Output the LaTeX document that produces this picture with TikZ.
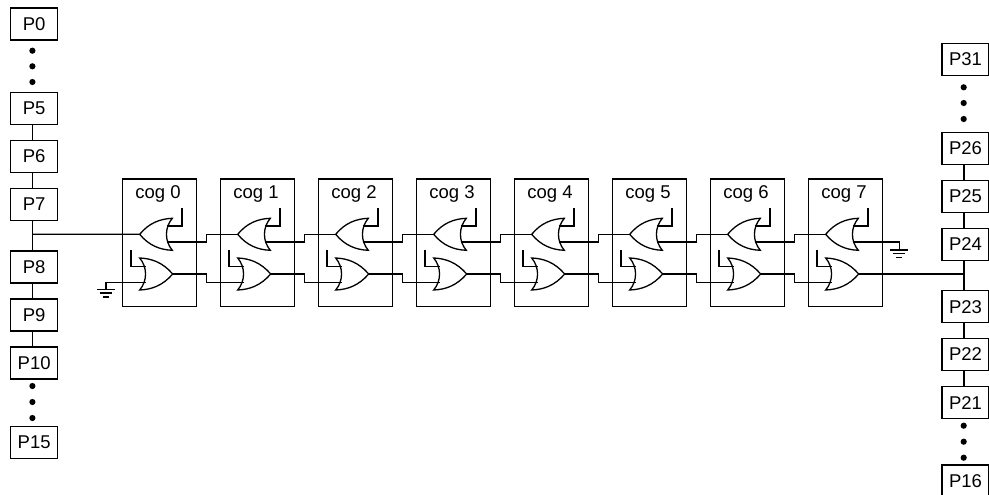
\documentclass[tikz,border=0pt]{standalone}
\usepackage{fontspec}
\setmainfont{Liberation Sans}
\tikzset{
  wire/.style={line width=1.3pt, line join=miter},
  pinbox/.style={draw, line width=1.3pt, minimum width=47pt, minimum height=32pt, inner sep=0pt, outer sep=0pt, font=\fontsize{18.5}{20}\selectfont},
  pindot/.style={circle, fill=black, minimum size=6.2pt, inner sep=0pt, outer sep=0pt},
  cogbox/.style={draw, line width=1.3pt, minimum width=74pt, minimum height=127.7pt, inner sep=0pt, outer sep=0pt},
  coglabel/.style={anchor=base, inner sep=0pt, font=\fontsize{18.5}{20}\selectfont},
  gate/.style={line width=1.3pt, line join=miter, miter limit=10},
}
\begin{document}
\begin{tikzpicture}[x=1pt,y=-1pt]
\useasboundingbox (0,0) rectangle (989,495);
\clip (0,0) rectangle (989,495);
\coordinate (colL) at (32.4,0);
\coordinate (colR) at (964,0);
% left pins
\foreach \n/\y in {P0/24, P5/108.5, P6/156.3, P7/204.5, P8/267, P9/315, P10/363, P15/442.7}
  \node[pinbox] (\n) at (34.2,\y) {\n};
% right pins
\foreach \n/\y in {P31/59.2, P26/148.6, P25/196.5, P24/244.5, P23/306.7, P22/354.5, P21/402.7, P16/481}
  \node[pinbox] (\n) at (965.5,\y) {\n};
% dots
\foreach \n/\x/\y in {a/32.4/50.7, b/32.4/66.3, c/32.4/82, d/32.4/386, e/32.4/402, f/32.4/418,
                      g/963.7/87.3, h/963.7/103, i/963.7/119, j/963.7/425.7, k/963.7/441.7, l/963.7/457.7}
  \node[pindot] (dot\n) at (\x,\y) {};
% pin chains
\foreach \a/\b in {P5/P6, P6/P7, P7/P8, P8/P9, P9/P10}
  \draw[wire] (\a.south -| colL) -- (\b.north -| colL);
\foreach \a/\b in {P26/P25, P25/P24, P24/P23, P23/P22, P22/P21}
  \draw[wire] (\a.south -| colR) -- (\b.north -| colR);
% cogs
\foreach \i in {0,...,7} {
  \begin{scope}[shift={(98*\i,0)}]
    \node[cogbox] (cog\i) at (159.3,242.9) {};
    \node[coglabel] (lab\i) at (158,198.3) {cog \i};
    \draw[gate] (172.3,218.3) .. controls (160,218.8) and (149,223) .. (139.7,234.3)
       .. controls (149,245.6) and (160,249.8) .. (172.3,250.3)
       .. controls (164.5,241) and (164.5,227.6) .. cycle;
    \draw[gate] (139.7,258) .. controls (152,258.5) and (163,262.7) .. (172.7,274)
       .. controls (163,285.3) and (152,289.5) .. (139.7,290)
       .. controls (147.5,280.7) and (147.5,267.3) .. cycle;
    \coordinate (uin\i) at (139.7,234.3);
    \coordinate (uout\i) at (166.6,242);
    \coordinate (uen\i) at (167,226);
    \coordinate (uent\i) at (182,208);
    \coordinate (lout\i) at (172.7,274);
    \coordinate (len\i) at (145.6,266.3);
    \coordinate (lent\i) at (131,250);
    \coordinate (lin\i) at (145.6,282.3);
    \coordinate (ustep\i) at (206.7,234.3);
    \coordinate (lstep\i) at (206.7,282.3);
    \draw[wire] (uen\i) -| (uent\i);
    \draw[wire] (len\i) -| (lent\i);
  \end{scope}
}
% cog to cog
\foreach \i/\j in {0/1,1/2,2/3,3/4,4/5,5/6,6/7} {
  \draw[wire] (uout\i) -| (ustep\i) -- (uin\j);
  \draw[wire] (lout\i) -| (lstep\i) -- (lin\j);
}
% left bus
\draw[wire] (P7.south -| colL) ++(0,13.7) coordinate (jl) -- (uin0);
% right bus
\draw[wire] (lout7) -- (lout7 -| colR);
% grounds
\coordinate (gndL) at (106,289.3);
\draw[wire] (lin0) -| (gndL);
\draw[wire] ([xshift=-9pt]gndL) -- ([xshift=9pt]gndL);
\draw[wire] ([xshift=-6pt,yshift=-3.8pt]gndL) -- ([xshift=6pt,yshift=-3.8pt]gndL);
\draw[wire] ([xshift=-3pt,yshift=-7.6pt]gndL) -- ([xshift=3pt,yshift=-7.6pt]gndL);
\coordinate (gndR) at (899.3,250);
\draw[wire] (uout7) -| (gndR);
\draw[wire] ([xshift=-9pt]gndR) -- ([xshift=9pt]gndR);
\draw[wire] ([xshift=-6pt,yshift=-3.6pt]gndR) -- ([xshift=6pt,yshift=-3.6pt]gndR);
\draw[wire] ([xshift=-3pt,yshift=-7.2pt]gndR) -- ([xshift=3pt,yshift=-7.2pt]gndR);
\end{tikzpicture}
\end{document}
